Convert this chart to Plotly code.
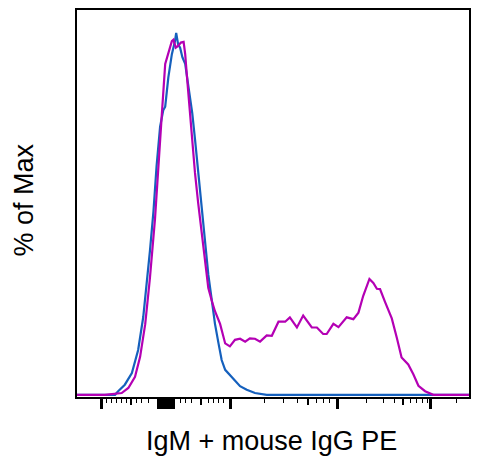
import plotly.graph_objects as go

# histogram traces, x in display channels (0-1000), y in % of max
blue_x = [0, 71, 97, 105, 122, 140, 156, 169, 178, 186, 195, 203, 212, 220, 225, 233, 242,
          250, 253, 258, 263, 269, 276, 282, 288, 294, 301, 309, 318, 327, 335, 344, 352,
          361, 369, 378, 390, 403, 416, 433, 454, 484, 1000]
blue_y = [0, 0, 0, 1.0, 2.8, 6.0, 12.4, 21.5, 30.6, 39.7, 50.6, 63.2, 74.1, 78.6, 79.6,
          87.7, 94.1, 97.7, 100, 96.8, 95.9, 93.2, 91.4, 86.8, 81.4, 77.8, 70.6, 61.5, 50.6,
          41.4, 33.2, 26.0, 19.6, 14.2, 9.6, 6.9, 5.5, 3.7, 2.4, 1.4, 0.5, 0, 0]

mag_x = [0, 71, 114, 131, 148, 161, 174, 186, 199, 207, 216, 225, 233, 242, 246, 252, 258,
         265, 272, 276, 280, 286, 293, 301, 309, 318, 327, 335, 344, 352, 365, 378, 390,
         403, 416, 429, 441, 454, 467, 484, 497, 514, 531, 543, 561, 577, 599, 612, 628,
         637, 654, 667, 688, 705, 718, 730, 746, 756, 765, 773, 786, 803, 816, 828, 845,
         858, 871, 888, 909, 1000]
mag_y = [0, 0, 0.5, 1.9, 5.0, 10.5, 19.5, 32.2, 48.6, 63.2, 76.8, 91.4, 94.1, 97.7, 98.1,
         95.9, 96.4, 97.3, 97.5, 94.1, 88.6, 80.4, 70.4, 61.3, 53.1, 44.9, 37.6, 29.5, 25.9,
         23.1, 19.6, 14.2, 13.4, 15.2, 15.5, 14.7, 15.6, 15.5, 14.7, 16.4, 16.3, 20.2, 20.2,
         21.4, 18.6, 21.9, 18.6, 18.6, 16.8, 16.8, 19.6, 18.7, 21.4, 20.9, 22.7, 27.3, 32.0,
         30.9, 29.3, 29.2, 25.6, 21.1, 15.7, 10.3, 8.4, 5.7, 2.5, 1.0, 0, 0]

# biexponential tick positions (display channels)
major_ticks = [63, 208, 214, 219, 227, 234, 239, 245, 392, 664, 902]
medium_ticks = [137, 316, 590, 832, 211, 216, 222, 231, 237, 242]
minor_ticks = [76, 88, 100, 114, 127, 152, 165, 182, 263, 277, 293, 335, 348, 360, 373,
               478, 526, 562, 611, 628, 645, 739, 781, 809, 851, 867, 882, 894, 969]

fig = go.Figure()
fig.add_trace(go.Scatter(x=blue_x, y=blue_y, mode='lines',
                         line=dict(color='#1560bd', width=2.2), xaxis='x'))
fig.add_trace(go.Scatter(x=mag_x, y=mag_y, mode='lines',
                         line=dict(color='#b400b4', width=2.2), xaxis='x2'))

# page body adds an 8px offset, so the figure is sized to fit inside the window
fig.update_layout(
    width=472, height=457,
    margin=dict(l=69, r=11, t=0, b=68),
    plot_bgcolor='white', paper_bgcolor='white',
    showlegend=False,
    font=dict(family='Liberation Sans, Arial', color='black'),
    xaxis=dict(range=[0, 1000], showgrid=False, zeroline=False,
               showline=True, mirror=True, linecolor='black', linewidth=1.5,
               ticks='outside', tickvals=major_ticks, ticklen=10, tickwidth=2.8,
               tickcolor='black', showticklabels=False,
               minor=dict(tickvals=minor_ticks, ticks='outside', ticklen=4,
                          tickwidth=1.4, tickcolor='black')),
    xaxis2=dict(range=[0, 1000], overlaying='x', anchor='y', side='bottom',
                showgrid=False, zeroline=False, showline=False,
                ticks='outside', tickvals=medium_ticks, ticklen=7, tickwidth=2,
                tickcolor='black', showticklabels=False),
    yaxis=dict(range=[-0.6, 106.3], showgrid=False, zeroline=False,
               showline=True, mirror=True, linecolor='black', linewidth=1.5,
               ticks='', showticklabels=False),
    annotations=[
        dict(text='IgM + mouse IgG PE', xref='paper', yref='paper', x=0.497, y=-0.113,
             xanchor='center', yanchor='middle', showarrow=False, font=dict(size=27)),
        dict(text='% of Max', xref='paper', yref='paper', x=-0.134, y=0.509,
             xanchor='center', yanchor='middle', textangle=-90, showarrow=False,
             font=dict(size=27)),
    ],
)

fig.write_html("out.html")
